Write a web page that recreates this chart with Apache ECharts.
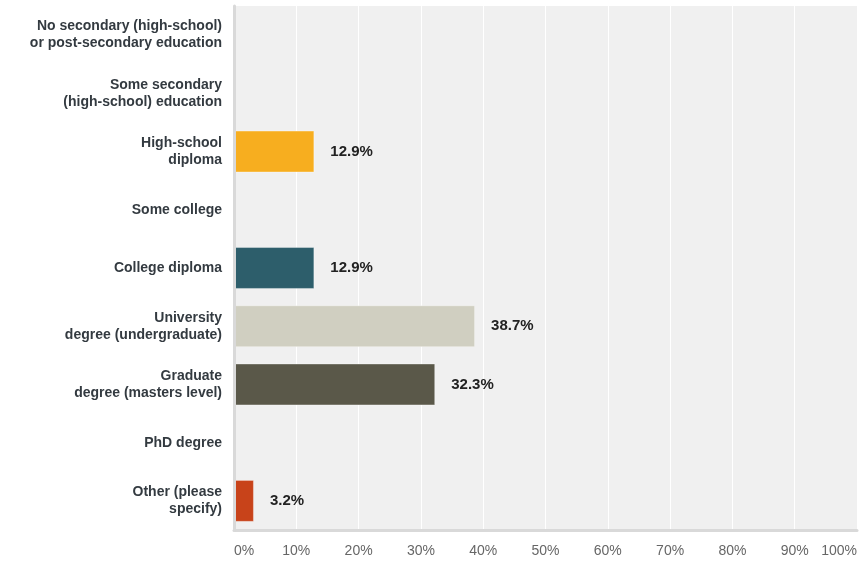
<!DOCTYPE html>
<html>
<head>
<meta charset="utf-8">
<script src="https://cdn.jsdelivr.net/npm/echarts@6/dist/echarts.min.js"></script>
<style>html,body{margin:0;padding:0;background:#fff}#c{width:860px;height:562px}</style>
</head>
<body>
<div id="c"></div>
<script>
var categories = [
  "No secondary (high-school)\nor post-secondary education",
  "Some secondary\n(high-school) education",
  "High-school\ndiploma",
  "Some college",
  "College diploma",
  "University\ndegree (undergraduate)",
  "Graduate\ndegree (masters level)",
  "PhD degree",
  "Other (please\nspecify)"
];
var values = [0, 0, 12.9, 0, 12.9, 38.7, 32.3, 0, 3.2];
var barColors = ["#F7AE1F", "#F7AE1F", "#F7AE1F", "#2D5E6B", "#2D5E6B", "#D0CFC1", "#5A5849", "#C8431A", "#C8431A"];
var xTicks = [0, 10, 20, 30, 40, 50, 60, 70, 80, 90, 100];

var chart = echarts.init(document.getElementById('c'));
chart.setOption({
  animation: false,
  grid: { left: 234, right: 2, top: 6, bottom: 32, show: true, backgroundColor: '#f0f0f0', borderWidth: 0 },
  xAxis: {
    type: 'value', min: xTicks[0], max: xTicks[xTicks.length - 1], interval: 10,
    axisLine: { show: true, lineStyle: { color: '#d9d9d9', width: 3 } },
    axisTick: { show: false },
    splitLine: { show: true, lineStyle: { color: '#ffffff', width: 1 } },
    axisLabel: { formatter: '{value}%', color: '#666', fontFamily: 'Arial, "Liberation Sans"', fontSize: 14, margin: 14, alignMaxLabel: 'right', alignMinLabel: 'left' }
  },
  yAxis: {
    type: 'category', data: categories, inverse: true, z: 5,
    axisLine: { show: true, lineStyle: { color: '#d9d9d9', width: 3 } },
    axisTick: { show: false },
    axisLabel: { color: '#333a40', fontFamily: 'Arial, "Liberation Sans"', fontSize: 14, fontWeight: 'bold', lineHeight: 17, margin: 12 }
  },
  series: [{
    type: 'bar',
    data: values,
    barCategoryGap: '28%',
    itemStyle: {
      color: function (p) { return barColors[p.dataIndex]; },
      borderColor: 'rgba(255,255,255,0.35)', borderWidth: 1
    },
    label: {
      show: true, position: 'right', distance: 16,
      formatter: function (p) { return p.value ? p.value.toFixed(1) + '%' : ''; },
      color: '#222', fontFamily: 'Arial, "Liberation Sans"', fontSize: 15, fontWeight: 'bold'
    }
  }]
});
</script>
</body>
</html>
